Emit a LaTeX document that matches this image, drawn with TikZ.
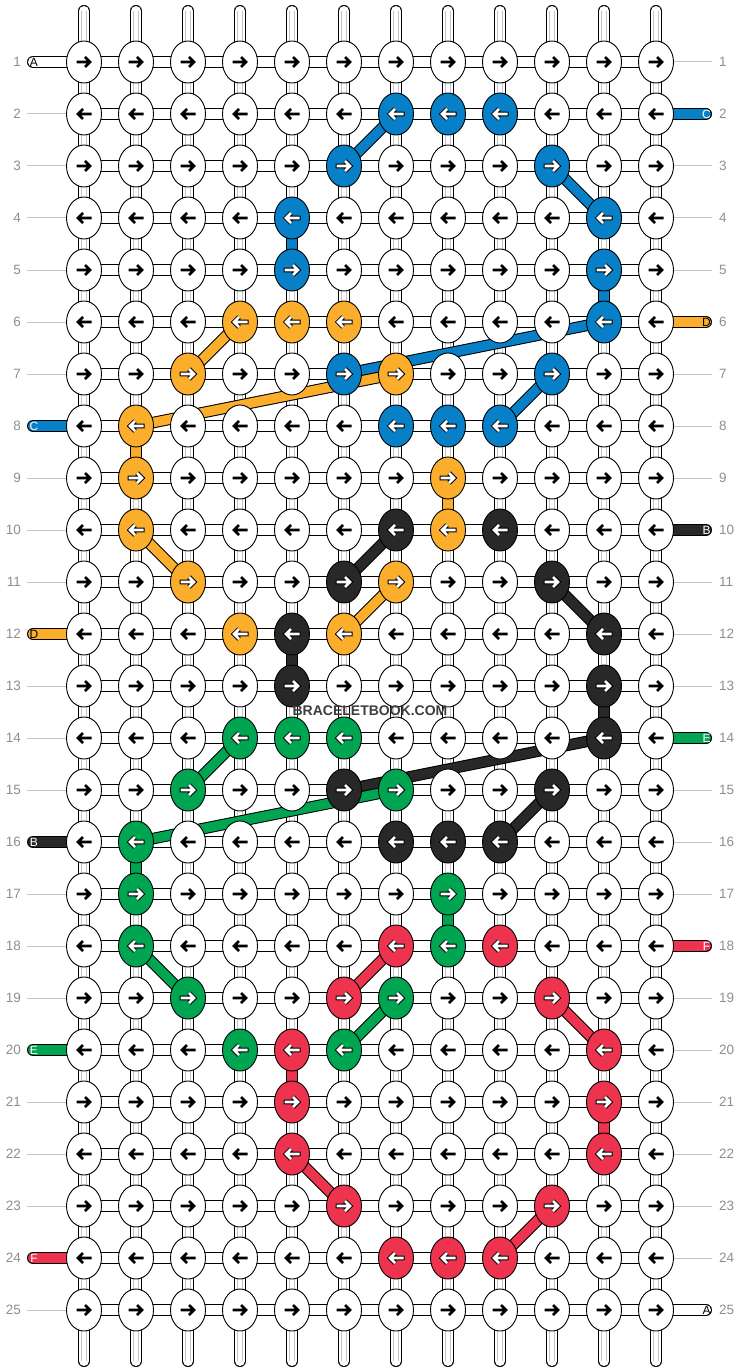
\documentclass[tikz,border=0pt]{standalone}
\usepackage{fontspec}
\setmainfont{Liberation Sans}
\usetikzlibrary{shapes.geometric}
\definecolor{cblue}{HTML}{0780C8}
\definecolor{corange}{HTML}{FBAE2C}
\definecolor{cblack}{HTML}{282828}
\definecolor{cgreen}{HTML}{00A551}
\definecolor{cred}{HTML}{EE334E}
\definecolor{numgray}{HTML}{8E8E8E}
\definecolor{linegray}{HTML}{C4C4C4}
\pgfdeclarelayer{strings}
\pgfdeclarelayer{links}
\pgfsetlayers{strings,links,main}
\begin{document}
\begin{tikzpicture}[x=1pt,y=-1pt,
		knot/.style={draw,ellipse,minimum width=35pt,minimum height=42pt,inner sep=0pt,line width=0.9pt},
		rowno/.style={text=numgray,inner sep=0pt,font=\fontsize{13.5}{15}\selectfont},
		sideline/.style={draw=linegray,line width=1pt},
		strand/.style={draw=black,line width=12pt},
		strandin/.style={draw=white,line width=10pt},
		link/.style={draw=black,line width=11.5pt},
		linkin/.style={line width=9.5pt},
		tag/.style={inner sep=0pt,font=\fontsize{12}{13}\selectfont},
		knotarrow/.style={line width=2.6pt,miter limit=6}
	]
	\useasboundingbox (0,0) rectangle (740,1372);

	\foreach \r/\c/\col in {2/7/cblue,2/8/cblue,2/9/cblue,3/6/cblue,3/10/cblue,4/5/cblue,4/11/cblue,5/5/cblue,5/11/cblue,6/11/cblue,7/6/cblue,7/10/cblue,8/7/cblue,8/8/cblue,8/9/cblue,
		6/4/corange,6/5/corange,6/6/corange,7/3/corange,7/7/corange,8/2/corange,9/2/corange,9/8/corange,10/2/corange,10/8/corange,11/3/corange,11/7/corange,12/4/corange,12/6/corange,
		10/7/cblack,10/9/cblack,11/6/cblack,11/10/cblack,12/5/cblack,12/11/cblack,13/5/cblack,13/11/cblack,14/11/cblack,15/6/cblack,15/10/cblack,16/7/cblack,16/8/cblack,16/9/cblack,
		14/4/cgreen,14/5/cgreen,14/6/cgreen,15/3/cgreen,15/7/cgreen,16/2/cgreen,17/2/cgreen,17/8/cgreen,18/2/cgreen,18/8/cgreen,19/3/cgreen,19/7/cgreen,20/4/cgreen,20/6/cgreen,
		18/7/cred,18/9/cred,19/6/cred,19/10/cred,20/5/cred,20/11/cred,21/5/cred,21/11/cred,22/5/cred,22/11/cred,23/6/cred,23/10/cred,24/7/cred,24/8/cred,24/9/cred}
		{\expandafter\xdef\csname kc\r-\c\endcsname{\col}}

	\foreach \r in {1,...,25}
		\foreach \c in {1,...,12}{
			\pgfmathsetmacro\kx{84+52*(\c-1)}
			\pgfmathsetmacro\ky{62+52*(\r-1)}
			\pgfmathsetmacro\kd{mod(\r,2)==1 ? 1 : -1}
			\ifcsname kc\r-\c\endcsname
				\edef\kcol{\csname kc\r-\c\endcsname}
				\node[knot,fill=\kcol] (k-\r-\c) at (\kx,\ky) {};
				\draw[knotarrow,line width=4.6pt,shift={(k-\r-\c.center)},xscale=\kd] (-8.5,0) -- (6,0) (1,-5) -- (6,0) -- (1,5);
				\draw[knotarrow,white,shift={(k-\r-\c.center)},xscale=\kd] (-7.5,0) -- (6,0) (1,-5) -- (6,0) -- (1,5);
			\else
				\node[knot,fill=white] (k-\r-\c) at (\kx,\ky) {};
				\draw[knotarrow,shift={(k-\r-\c.center)},xscale=\kd] (-7.5,0) -- (6,0) (1,-5) -- (6,0) -- (1,5);
			\fi
		}

	\foreach \r in {1,...,25}{
		\node[rowno,anchor=east] (ln-\r) at (21,{62+52*(\r-1)}) {\r};
		\node[rowno,anchor=west] (rn-\r) at (719,{62+52*(\r-1)}) {\r};
	}

	\begin{pgfonlayer}{strings}
		\foreach \c in {1,...,12}{
			\pgfmathsetmacro\kx{84+52*(\c-1)}
			\coordinate (top-\c) at (\kx,11);
			\coordinate (bot-\c) at (\kx,1361);
			\draw[strand,line cap=round] (top-\c) -- (bot-\c);
			\draw[strandin,line cap=round] (top-\c) -- (bot-\c);
			\draw[linegray,line width=0.8pt] ([xshift=-2.3pt]top-\c) -- ([xshift=-2.3pt]bot-\c) ([xshift=2.3pt]top-\c) -- ([xshift=2.3pt]bot-\c);
		}
		\foreach \r in {1,...,25}{
			\draw[strand] (k-\r-1.center) -- (k-\r-12.center);
			\draw[strandin] (k-\r-1.center) -- (k-\r-12.center);
			\draw[sideline] ([xshift=6pt]ln-\r.east) -- (k-\r-1.west);
			\draw[sideline] (k-\r-12.east) -- ([xshift=-7.5pt]rn-\r.west);
		}
		\foreach \r/\t/\col/\tc in {1/A/white/black,8/C/cblue/white,12/D/corange/black,16/B/cblack/white,20/E/cgreen/white,24/F/cred/white}{
			\coordinate (lp-\r) at (33,{62+52*(\r-1)});
			\draw[strand,line cap=round] (k-\r-1.center) -- (lp-\r);
			\draw[strandin,line cap=round,draw=\col] (k-\r-1.center) -- (lp-\r);
			\node[tag,text=\tc] (lt-\r) at ([xshift=1pt]lp-\r) {\t};
		}
		\foreach \r/\t/\col/\tc in {2/C/cblue/white,6/D/corange/black,10/B/cblack/white,14/E/cgreen/white,18/F/cred/white,25/A/white/black}{
			\coordinate (rp-\r) at (706,{62+52*(\r-1)});
			\draw[strand,line cap=round] (k-\r-12.center) -- (rp-\r);
			\draw[strandin,line cap=round,draw=\col] (k-\r-12.center) -- (rp-\r);
			\node[tag,text=\tc] (rt-\r) at ([xshift=0.5pt]rp-\r) {\t};
		}
	\end{pgfonlayer}

	\begin{pgfonlayer}{links}
		\foreach \a/\b/\col in {2-7/3-6/cblue,3-10/4-11/cblue,4-5/5-5/cblue,5-11/6-11/cblue,6-11/7-6/cblue,7-10/8-9/cblue,
			6-4/7-3/corange,7-7/8-2/corange,8-2/9-2/corange,9-8/10-8/corange,10-2/11-3/corange,11-7/12-6/corange,
			10-7/11-6/cblack,11-10/12-11/cblack,12-5/13-5/cblack,13-11/14-11/cblack,14-11/15-6/cblack,15-10/16-9/cblack,
			14-4/15-3/cgreen,15-7/16-2/cgreen,16-2/17-2/cgreen,17-8/18-8/cgreen,18-2/19-3/cgreen,19-7/20-6/cgreen,
			18-7/19-6/cred,19-10/20-11/cred,20-5/21-5/cred,21-11/22-11/cred,22-5/23-6/cred,23-10/24-9/cred}{
			\draw[link] (k-\a.center) -- (k-\b.center);
			\draw[linkin,draw=\col] (k-\a.center) -- (k-\b.center);
		}
	\end{pgfonlayer}

	\node[text=cblack!90,font=\bfseries\fontsize{14}{16}\selectfont,inner sep=0pt] (brand) at (370,711) {BRACELETBOOK.COM};
\end{tikzpicture}
\end{document}
